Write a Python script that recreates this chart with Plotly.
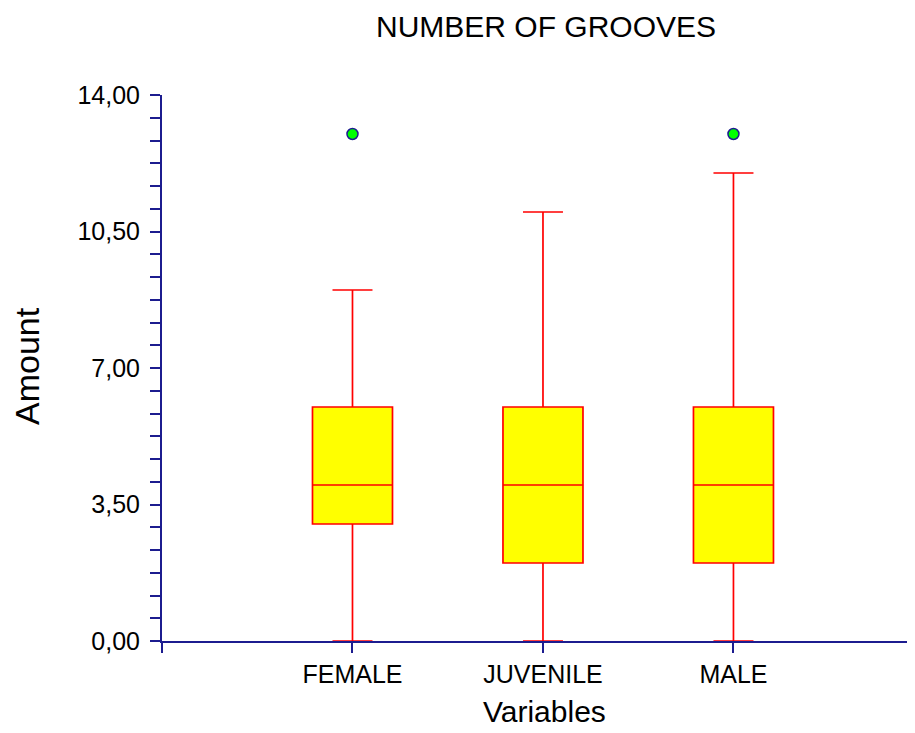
import plotly.graph_objects as go

categories = ["FEMALE", "JUVENILE", "MALE"]
q1 = [3, 2, 2]
median = [4, 4, 4]
q3 = [6, 6, 6]
lower_whisker = [0, 0, 0]
upper_whisker = [9, 11, 12]
outlier_cats = ["FEMALE", "MALE"]
outlier_vals = [13, 13]
y_tick_vals = [0, 3.5, 7, 10.5, 14]
y_tick_text = ["0,00", "3,50", "7,00", "10,50", "14,00"]

NAVY = "#1c1c8f"
pos = {c: i for i, c in enumerate(categories)}

# page has an 8px body margin; work in figure pixel coords
OFF = 8
W, H = 915 - OFF, 733 - OFF
L, T, B = 162 - OFF, 95 - OFF, 733 - 641
pw, ph = W - L, H - T - B


def px_x(x):
    return (x - OFF - L) / pw


def px_y(y):
    return (H - B - (y - OFF)) / ph


fig = go.Figure()
fig.add_trace(go.Box(
    x=[pos[c] for c in categories],
    q1=q1, median=median, q3=q3,
    lowerfence=lower_whisker, upperfence=upper_whisker,
    width=0.42, whiskerwidth=0.5,
    fillcolor="#FFFF00",
    line=dict(color="#FF0000", width=1.7),
    boxpoints=False, hoverinfo="skip", showlegend=False,
))
fig.add_trace(go.Scatter(
    x=[pos[c] for c in outlier_cats], y=outlier_vals, mode="markers",
    marker=dict(color="#00FF00", size=11, line=dict(color=NAVY, width=1.5)),
    showlegend=False, hoverinfo="skip", cliponaxis=False,
))

fig.update_layout(
    width=W, height=H,
    margin=dict(l=L, r=0, t=T, b=B, autoexpand=False),
    paper_bgcolor="white", plot_bgcolor="white",
    font=dict(family="Liberation Sans, Arial, sans-serif", color="black"),
    title=dict(text="NUMBER OF GROOVES", x=(546 - OFF) / W, xanchor="center",
               y=1 - (26 - OFF) / H, yanchor="middle",
               font=dict(family="Liberation Sans, Arial", size=30, color="black")),
    annotations=[
        dict(text="Variables", x=px_x(544), y=px_y(711), xref="paper", yref="paper",
             xanchor="center", yanchor="middle", showarrow=False, font=dict(size=30)),
        dict(text="Amount", x=px_x(27), y=px_y(366), xref="paper", yref="paper",
             xanchor="center", yanchor="middle", showarrow=False,
             textangle=-90, font=dict(size=34)),
    ],
)

fig.update_xaxes(
    range=[-1, 2.953], tickvals=[-1, 0, 1, 2], ticktext=[""] + categories,
    showgrid=False, zeroline=False, showline=True, linecolor=NAVY, linewidth=2,
    ticks="outside", ticklen=10, tickwidth=2, tickcolor=NAVY,
    tickfont=dict(size=25), layer="below traces", automargin=False,
)
fig.update_yaxes(
    range=[0, 14], tickvals=y_tick_vals, ticktext=y_tick_text,
    showgrid=False, zeroline=False, showline=True, linecolor=NAVY, linewidth=2,
    ticks="outside", ticklen=10, tickwidth=2, tickcolor=NAVY,
    minor=dict(dtick=3.5 / 6, tick0=0, ticks="outside", ticklen=10, tickwidth=2, tickcolor=NAVY),
    tickfont=dict(size=25), layer="below traces", automargin=False,
    ticklabelstandoff=5,
)

fig.write_html("out.html")
